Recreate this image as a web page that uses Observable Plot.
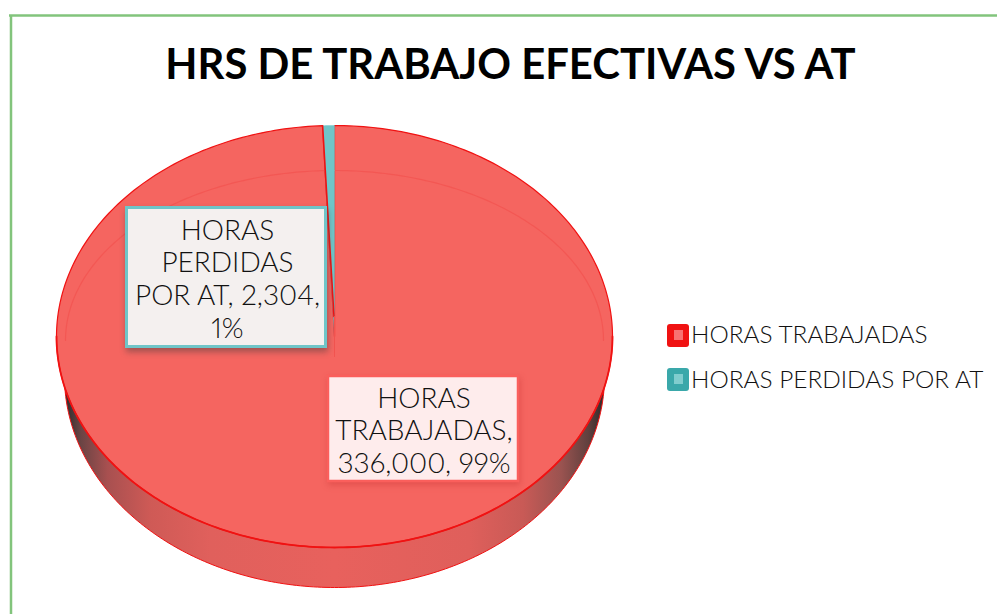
<!DOCTYPE html>
<html>
<head>
<meta charset="utf-8">
<script src="https://cdn.jsdelivr.net/npm/d3@7"></script>
<script src="https://cdn.jsdelivr.net/npm/@observablehq/plot@0.6"></script>
<style>
html,body{margin:0;padding:0;background:#fff;overflow:hidden}
svg{display:block}
</style>
</head>
<body>
<div id="chart"></div>
<script>
const chartTitle = "HRS DE TRABAJO EFECTIVAS VS AT";
const categories = ["HORAS TRABAJADAS", "HORAS PERDIDAS POR AT"];
const hours = [336000, 2304];
const percents = [99, 1];
const sliceFill = ["#F56560", "#6FC5C8"];
const legendSwatch = ["#F01212", "#3AA8AA"];
const legendInner = ["#F87272", "#80CDCE"];

// layout (pixels), converted to the pie's unit scales below
const CX = 334, CY = 336, RX = 278, RY = 211;
const ux = p => (p - CX) / RX;
const uy = p => (CY - p) / RY;

const total = d3.sum(hours);
const lostAngle = hours[1] / total * 2 * Math.PI;
const fmt = d3.format(",");

// clockwise from 12 o'clock: lost hours end at the top, worked hours take the rest
function arc(a0, a1, n, rx = 1, ry = 1, oy = 0) {
  return d3.range(n + 1).map(i => {
    const a = a0 + (a1 - a0) * i / n;
    return {x: rx * Math.sin(a), y: oy + ry * Math.cos(a)};
  });
}
const apex = {x: 0, y: 0};
const workedArc = arc(0, 2 * Math.PI - lostAngle, 360);
const worked = [apex, ...workedArc, apex];
const lost = [apex, ...arc(2 * Math.PI - lostAngle, 2 * Math.PI, 12), apex];
const leftEdge = [workedArc[workedArc.length - 1], {x: ux(333.5), y: uy(316)}];
const frontEdge = arc(Math.PI / 2, 3 * Math.PI / 2, 200);
const centerSeam = [{x: 0, y: uy(316)}, {x: 0, y: uy(356)}];

// side wall: lower half of the ellipse, shifted down and slightly narrower
const sideRx = 270 / RX, sideOy = uy(376);
const side = arc(Math.PI / 2, 3 * Math.PI / 2, 200, sideRx, 1, sideOy);
const bevel = arc(-Math.PI / 2, Math.PI / 2, 200, 269 / RX, 170 / RY, uy(340));

const labelA = [categories[1].split(" ")[0], categories[1].split(" ")[1],
  `POR AT, ${fmt(hours[1])},`, `${percents[1]}%`];
const labelB = [categories[0].split(" ")[0], categories[0].split(" ")[1] + ",",
  `${fmt(hours[0])}, ${percents[0]}%`];

const FONT = "Lato";
const lines = (rows, x, y0, step) => rows.map((t, i) => ({t, x: ux(x), y: uy(y0 + i * step)}));
const box = (x1, y1, x2, y2) => [{x1: ux(x1), x2: ux(x2), y1: uy(y1), y2: uy(y2)}];
const textOpts = (size) => ({x: "x", y: "y", text: "t", fontFamily: FONT, fontWeight: 300,
  fontSize: size, lineAnchor: "bottom", fill: "#111", fontVariant: "proportional-nums"});

const plot = Plot.plot({
  width: 997, height: 614, margin: 0,
  x: {domain: [-1, 1], range: [CX - RX, CX + RX], axis: null},
  y: {domain: [-1, 1], range: [CY + RY, CY - RY], axis: null},
  marks: [
    // frame
    Plot.ruleX([ux(10.5)], {y1: uy(15), y2: uy(614), stroke: "#82C47C", strokeWidth: 2.5}),
    Plot.ruleY([uy(15)], {x1: ux(9), x2: ux(997), stroke: "#82C47C", strokeWidth: 2.5}),
    // title
    Plot.text([{t: chartTitle, x: ux(510), y: uy(78)}], {x: "x", y: "y", text: "t", fontFamily: FONT,
      fontWeight: 700, fontSize: 41.8, lineAnchor: "bottom", fill: "#000"}),
    // pie
    Plot.line(side, {x: "x", y: "y", fill: "url(#sideGrad)", stroke: "#F01212", strokeWidth: 1}),
    Plot.line(worked, {x: "x", y: "y", fill: sliceFill[0], stroke: "#F01212", strokeWidth: 1.2}),
    Plot.line(frontEdge, {x: "x", y: "y", stroke: "#F01212", strokeWidth: 1.8}),
    Plot.line(bevel, {x: "x", y: "y", stroke: "#F25450", strokeWidth: 1.2, strokeOpacity: 0.8}),
    Plot.line(lost, {x: "x", y: "y", fill: sliceFill[1], stroke: "#6FC5C8", strokeWidth: 0.5}),
    Plot.line(leftEdge, {x: "x", y: "y", stroke: "#F01212", strokeWidth: 1.6}),
    Plot.line(centerSeam, {x: "x", y: "y", stroke: "#F25450", strokeWidth: 1}),
    // data label boxes
    Plot.rect(box(126.5, 207.5, 325.5, 346.5), {x1: "x1", x2: "x2", y1: "y1", y2: "y2",
      fill: "#F4F0EF", stroke: sliceFill[1], strokeWidth: 3,
      imageFilter: "drop-shadow(1px 4px 3px rgba(60,60,60,.45))"}),
    Plot.text(lines(labelA, 227, 239, 32.7), textOpts(28)),
    Plot.rect(box(328, 376, 518, 481), {x1: "x1", x2: "x2", y1: "y1", y2: "y2",
      fill: "#FEECEC", stroke: "#FA5F5C", strokeWidth: 2.5,
      imageFilter: "drop-shadow(1px 3px 3px rgba(200,50,50,.4))"}),
    Plot.text(lines(labelB, 423.5, 407, 32.5), textOpts(28)),
    // legend
    Plot.rect(box(667, 324, 689, 347), {x1: "x1", x2: "x2", y1: "y1", y2: "y2", fill: legendSwatch[0], rx: 3}),
    Plot.rect(box(674, 330, 683, 340), {x1: "x1", x2: "x2", y1: "y1", y2: "y2", fill: legendInner[0]}),
    Plot.rect(box(667, 368, 689, 391), {x1: "x1", x2: "x2", y1: "y1", y2: "y2", fill: legendSwatch[1], rx: 3}),
    Plot.rect(box(674, 374, 683, 384), {x1: "x1", x2: "x2", y1: "y1", y2: "y2", fill: legendInner[1]}),
    Plot.text([{t: categories[0], x: ux(690.5), y: uy(342)}, {t: categories[1], x: ux(690.5), y: uy(387)}],
      {...textOpts(24.4), textAnchor: "start"})
  ]
});

// gradient for the pie's side wall
const defs = d3.select(plot).insert("defs", ":first-child");
const grad = defs.append("linearGradient").attr("id", "sideGrad")
  .attr("gradientUnits", "userSpaceOnUse")
  .attr("x1", 64).attr("x2", 604).attr("y1", 0).attr("y2", 0);
[[0, "#2E2A2A"], [0.03, "#6A4444"], [0.08, "#A85050"], [0.16, "#CF5A56"], [0.27, "#E0605C"],
 [0.5, "#E8615D"], [0.75, "#DF5F5B"], [0.85, "#C85A56"], [0.92, "#9A5350"], [0.97, "#60403E"], [1, "#2E2A2A"]]
  .forEach(([o, c]) => grad.append("stop").attr("offset", o).attr("stop-color", c));

document.getElementById("chart").append(plot);
</script>
</body>
</html>
